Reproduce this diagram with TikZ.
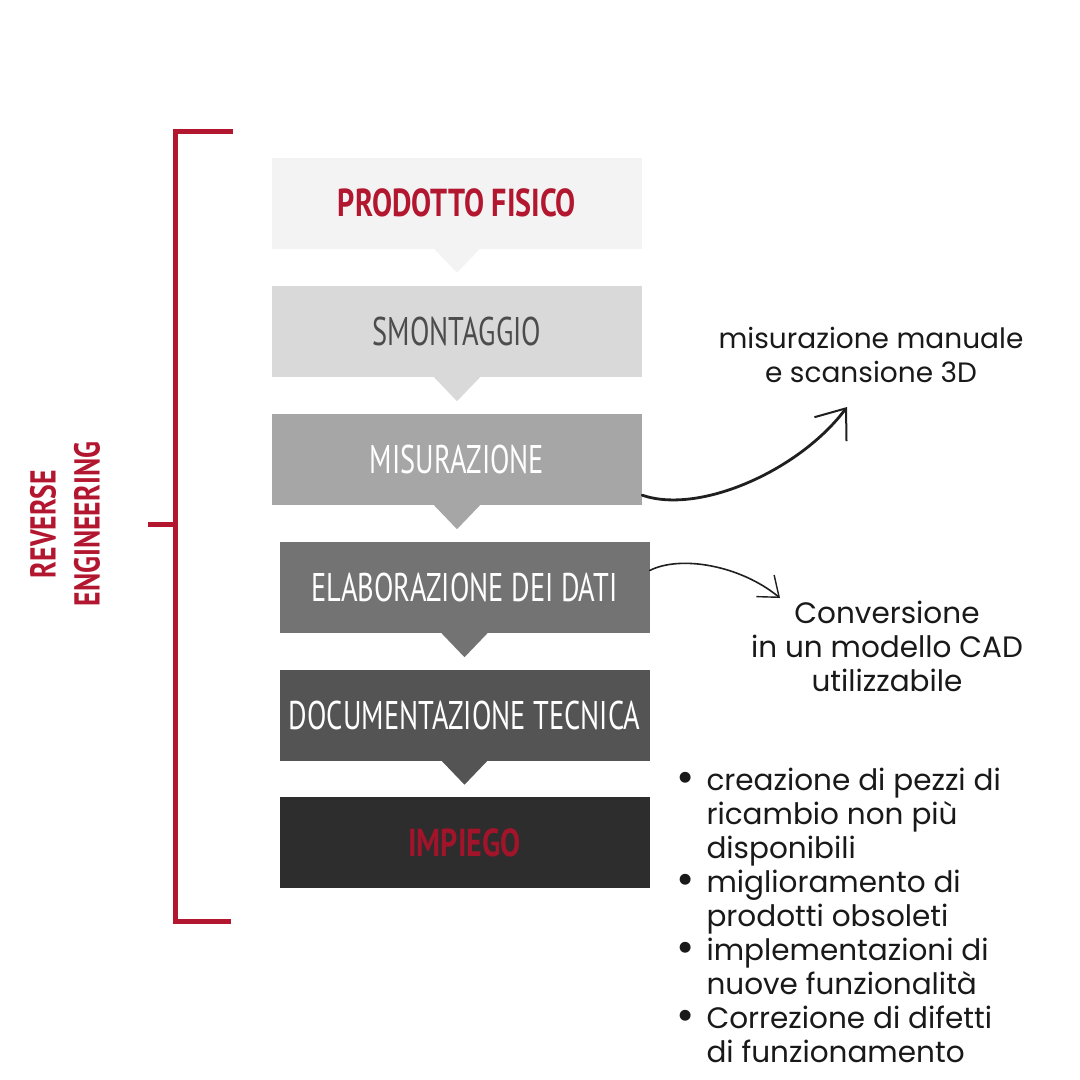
\documentclass[tikz,border=0pt]{standalone}
\usepackage{fontspec}
\usepackage{xcolor}
\usetikzlibrary{arrows.meta,positioning,calc}
\newfontfamily\stepfont[FakeStretch=0.71]{PT Sans}
\newfontfamily\stepboldfont[FakeStretch=0.77,UprightFont={* Bold}]{PT Sans}
\newfontfamily\notefont{Poppins}
\definecolor{rered}{HTML}{B3162F}
\definecolor{cA}{HTML}{F3F3F3}
\definecolor{cB}{HTML}{D9D9D9}
\definecolor{cC}{HTML}{A6A6A6}
\definecolor{cD}{HTML}{737373}
\definecolor{cE}{HTML}{545454}
\definecolor{cF}{HTML}{2D2D2D}
\newcommand{\itm}{\llap{\raisebox{-2pt}{\scalebox{1.5}{\textbullet}}\hspace{12pt}}}

\begin{document}
\begin{tikzpicture}[x=1pt,y=-1pt]
    \tikzstyle{stepbox}=[rectangle,minimum width=370pt,minimum height=91pt,inner sep=0pt,text=white,font=\stepfont\fontsize{40}{42}\selectfont]
    \tikzstyle{redstep}=[stepbox,font=\stepboldfont\fontsize{39}{42}\selectfont]
    \tikzstyle{note}=[align=center,text=black!90,font=\notefont\fontsize{28}{34}\selectfont]
    \tikzstyle{curve}=[draw=black!88,line cap=round]
    \tikzstyle{bracket}=[draw=rered,line width=5pt]

    \useasboundingbox[fill=white] (0,0) rectangle (1080,1080);

    % the steps
    \node[redstep, fill=cA, text=rered] (prod) at (457,203) {PRODOTTO FISICO};
    \node[stepbox, fill=cB, text=black!70] (smont) at (457,331.5) {SMONTAGGIO};
    \node[stepbox, fill=cC] (misur) at (457,459.5) {MISURAZIONE};
    \node[stepbox, fill=cD] (elab) at (464.5,587.5) {ELABORAZIONE DEI DATI};
    \node[stepbox, fill=cE] (docu) at (464.5,715) {DOCUMENTAZIONE TECNICA};
    \node[redstep, fill=cF, text=rered!90!black] (impiego) at (464.5,842.5) {IMPIEGO};

    \foreach \n/\c in {prod/cA, smont/cB, misur/cC, elab/cD, docu/cE}
        \fill[\c] ([xshift=-23pt]\n.south) -- ([xshift=23pt]\n.south) -- ([yshift=-24pt]\n.south) -- cycle;

    % bracket on the left
    \draw[bracket] (233,131) -- (175,131) -- (175,921) -- (231,921);
    \draw[bracket] (148,524) -- (175,524);
    \node[rotate=90, align=center, text=rered, font=\stepboldfont\fontsize{36}{44}\selectfont] (revers) at (65,524) {REVERSE\\ENGINEERING};

    % notes
    \node[note] (nota1) at (871,355) {misurazione manuale\\e scansione 3D};
    \node[note, font=\notefont\fontsize{29.5}{34}\selectfont] (nota2) at (887,646) {Conversione\\in un modello CAD\\utilizzabile};
    \node[note, align=left, anchor=west, font=\notefont\fontsize{29.5}{34}\selectfont] (usi) at (703,915) {\itm creazione di pezzi di\\ricambio non più\\disponibili\\\itm miglioramento di\\prodotti obsoleti\\\itm implementazioni di\\nuove funzionalità\\\itm Correzione di difetti\\di funzionamento};

    \coordinate (tip1) at (847,407);
    \coordinate (tip2) at (780,598);
    \draw[curve, line width=2.8pt, -{Straight Barb[length=26pt,width=40pt,line width=2pt]}] ([yshift=10pt]misur.south east) .. controls (700,515) and (800,470) .. (tip1);
    \draw[curve, line width=1.6pt, -{Straight Barb[length=18pt,width=28pt,line width=1.4pt]}] ([yshift=17pt]elab.east) .. controls (680,555) and (740,565) .. (tip2);
\end{tikzpicture}
\end{document}
